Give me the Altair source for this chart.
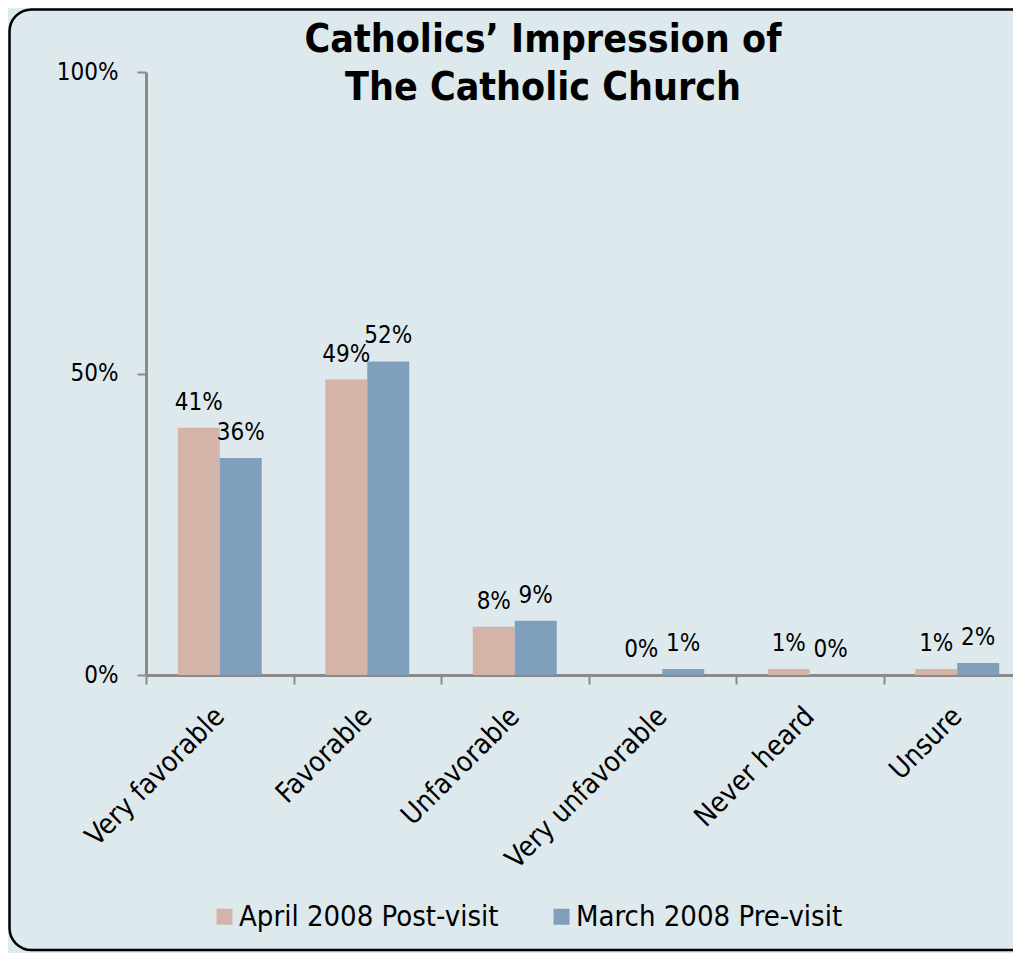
import altair as alt
import pandas as pd

categories = ["Very favorable", "Favorable", "Unfavorable", "Very unfavorable", "Never heard", "Unsure"]
series = ["April 2008 Post-visit", "March 2008 Pre-visit"]
april = [41, 49, 8, 0, 1, 1]
march = [36, 52, 9, 1, 0, 2]
colors = ["#d4b4a9", "#7f9fbc"]
title_lines = ["Catholics\u2019 Impression of", "The Catholic Church"]
y_ticks = [0, 50, 100]

rows = []
for i, c in enumerate(categories):
    rows.append({"cat": c, "series": series[0], "v": april[i]})
    rows.append({"cat": c, "series": series[1], "v": march[i]})
df = pd.DataFrame(rows)
df["label"] = df["v"].astype(str) + "%"

BG = "#dde9ed"
AX = "#8a8a8a"
FONT = "DejaVu Sans Condensed, DejaVu Sans"

x_enc = alt.X("cat:N", sort=categories, title=None,
              scale=alt.Scale(range=[0, 885], paddingInner=0, paddingOuter=0),
              axis=alt.Axis(labelAngle=-45, labelAlign="right", labelBaseline="middle",
                            labelFontSize=28, labelFont=FONT, labelColor="#000",
                            labelPadding=28, labelLimit=0, tickBand="extent", tickSize=9,
                            tickColor=AX, tickWidth=2, domainColor=AX, domainWidth=3))
xo = alt.XOffset("series:N", sort=series,
                 scale=alt.Scale(paddingInner=0, paddingOuter=0.756))

bars = alt.Chart(df).mark_bar().encode(
    x=x_enc, xOffset=xo,
    y=alt.Y("v:Q", title=None,
            scale=alt.Scale(domain=[0, 100], nice=False),
            axis=alt.Axis(values=y_ticks, labelExpr="datum.value + '%'", grid=False,
                          labelFontSize=24, labelFont=FONT, labelColor="#000",
                          labelPadding=19, tickSize=9, tickColor=AX, tickWidth=2,
                          domainColor=AX, domainWidth=3)),
    color=alt.Color("series:N", sort=series,
                    scale=alt.Scale(domain=series, range=colors),
                    legend=alt.Legend(title=None, orient="none", direction="horizontal",
                                      legendX=64, legendY=830, symbolType="square",
                                      symbolSize=256, symbolStrokeWidth=0, labelFontSize=29,
                                      labelFont=FONT, labelColor="#000", labelOffset=0,
                                      labelLimit=0, columnPadding=48)),
)

labels = alt.Chart(df).mark_text(fontSize=24, font=FONT, color="#000", baseline="alphabetic", dy=-18).encode(
    x=alt.X("cat:N", sort=categories), xOffset=xo, y="v:Q", text="label:N"
)

one = pd.DataFrame({"a": [0]})
title = alt.Chart(one).mark_text(text=title_lines, fontSize=39, fontWeight="bold", font=FONT,
                                 color="#000", lineHeight=48, baseline="middle", align="center").encode(
    x=alt.value(397), y=alt.value(-32)
)
border = alt.Chart(one).mark_rect(filled=False, stroke="#000", strokeWidth=2.5, cornerRadius=22,
                                  width=1030, height=940.5).encode(
    x=alt.value(378.5), y=alt.value(407.75)
)

chart = alt.layer(border, bars, labels, title).properties(
    width=867, height=603,
    autosize=alt.AutoSizeParams(type="none"),
    padding={"left": 138, "top": 64, "right": 0, "bottom": 278},
    background=BG,
).configure_view(stroke=None)

chart.save("out.html", embed_options={"renderer": "svg", "actions": False})
